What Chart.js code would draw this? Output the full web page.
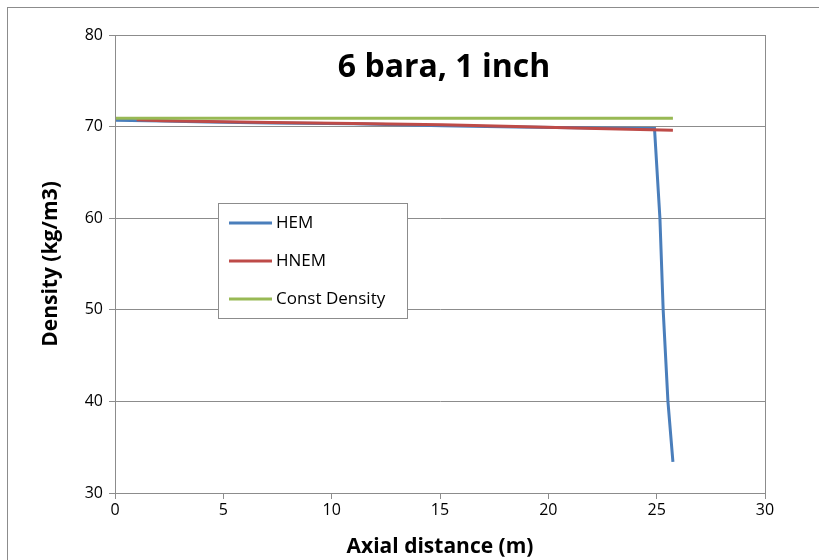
<!DOCTYPE html>
<html>
<head>
<meta charset="utf-8">
<script src="https://cdn.jsdelivr.net/npm/chart.js@4.4.1/dist/chart.umd.min.js"></script>
<style>
  html, body { margin: 0; padding: 0; background: #fff; }
  #wrap { position: relative; width: 819px; height: 560px; overflow: hidden; }
  #frame { position: absolute; left: 7px; top: 7px; width: 900px; height: 700px; border: 1px solid #8c8c8c; }
  canvas { position: absolute; left: 0; top: 0; }
</style>
</head>
<body>
<div id="wrap">
  <div id="frame"></div>
  <canvas id="myChart" width="819" height="560"></canvas>
</div>
<script>
// chart values
const hemX = [0, 2.2, 4.3, 7.2, 11, 15.1, 18.5, 22.2, 24.9, 25.15, 25.3, 25.52, 25.75];
const hemY = [70.7, 70.6, 70.5, 70.4, 70.3, 70.1, 69.95, 69.85, 69.8, 60, 50, 40, 33.4];
const hnemX = [1, 2.2, 4.3, 7.2, 11, 15.1, 18.5, 22.2, 25.75];
const hnemY = [70.75, 70.65, 70.55, 70.45, 70.35, 70.2, 70.0, 69.8, 69.6];
const constX = [0, 25.75];
const constY = [70.9, 70.9];
const xTicks = [0, 5, 10, 15, 20, 25, 30];
const yTicks = [30, 40, 50, 60, 70, 80];

function pts(xs, ys) { return xs.map((x, i) => ({ x: x, y: ys[i] })); }

// plot frame, title and boxed legend inside the plot area
const overlay = {
  id: 'overlay',
  afterDraw(chart) {
    const c = chart.ctx, a = chart.chartArea;
    c.save();
    c.strokeStyle = '#8c8c8c';
    c.lineWidth = 1;
    c.strokeRect(a.left + 0.5, a.top + 0.5, a.right - a.left, a.bottom - a.top);

    c.fillStyle = '#000';
    c.font = 'bold 32px "Open Sans", sans-serif';
    c.textAlign = 'center';
    c.textBaseline = 'middle';
    c.fillText('6 bara, 1 inch', 444, 68);

    // legend box
    c.fillStyle = '#fff';
    c.fillRect(218, 203, 189, 115);
    c.strokeStyle = '#8c8c8c';
    c.strokeRect(218.5, 203.5, 189, 115);
    c.font = '17px "Open Sans", sans-serif';
    c.textAlign = 'left';
    chart.data.datasets.forEach((ds, i) => {
      const y = 223 + i * 38;
      c.strokeStyle = ds.borderColor;
      c.lineWidth = 3;
      c.beginPath();
      c.moveTo(229, y);
      c.lineTo(272, y);
      c.stroke();
      c.fillStyle = '#000';
      c.fillText(ds.label, 276, y);
    });
    c.restore();
  }
};

new Chart(document.getElementById('myChart').getContext('2d'), {
  type: 'line',
  data: {
    datasets: [
      { label: 'HEM', data: pts(hemX, hemY), borderColor: '#4a7ebb', borderWidth: 3, pointRadius: 0, tension: 0, order: 3 },
      { label: 'HNEM', data: pts(hnemX, hnemY), borderColor: '#be4b48', borderWidth: 3, pointRadius: 0, tension: 0, order: 2 },
      { label: 'Const Density', data: pts(constX, constY), borderColor: '#98b954', borderWidth: 3, pointRadius: 0, tension: 0, order: 1 }
    ]
  },
  options: {
    responsive: false,
    animation: false,
    layout: { padding: { left: 0, top: 35, right: 54, bottom: 0 } },
    plugins: { legend: { display: false }, tooltip: { enabled: false } },
    scales: {
      x: {
        type: 'linear', min: 0, max: 30,
        afterBuildTicks: s => { s.ticks = xTicks.map(v => ({ value: v })); },
        afterFit: s => { s.height = 67; },
        grid: { drawOnChartArea: false, color: '#8c8c8c', tickLength: 6 },
        border: { color: '#8c8c8c' },
        ticks: { color: '#000', font: { size: 16, family: '"Open Sans", sans-serif' }, padding: 2 },
        title: { display: true, text: 'Axial distance (m)', color: '#000', font: { size: 21, weight: 'bold', family: '"Open Sans", sans-serif' }, padding: { top: 0, bottom: 0 } }
      },
      y: {
        min: 30, max: 80,
        afterBuildTicks: s => { s.ticks = yTicks.map(v => ({ value: v })); },
        afterFit: s => { s.width = 115; },
        grid: { color: '#8c8c8c', tickLength: 6 },
        border: { color: '#8c8c8c' },
        ticks: { color: '#000', font: { size: 16, family: '"Open Sans", sans-serif' }, padding: 6 },
        title: { display: true, text: 'Density (kg/m3)', color: '#000', font: { size: 21, weight: 'bold', family: '"Open Sans", sans-serif' }, padding: { top: 38, bottom: 0 } }
      }
    }
  },
  plugins: [overlay]
});
</script>
</body>
</html>
